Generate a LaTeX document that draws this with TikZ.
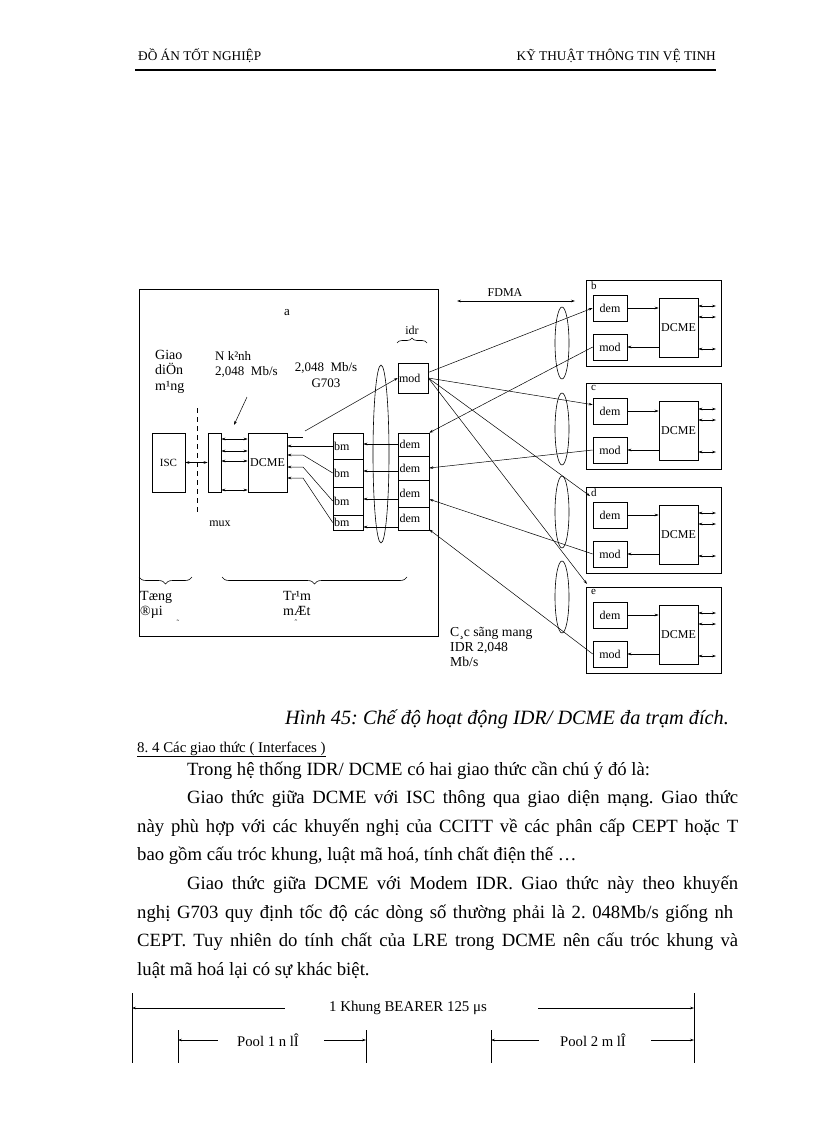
\documentclass[tikz,border=0pt]{standalone}
\usepackage{fontspec}
\setmainfont{Liberation Serif}
\usetikzlibrary{arrows.meta, calc, decorations.pathreplacing}
\newcommand{\fsz}[2]{\fontsize{#1}{#2}\selectfont}
\frenchspacing

\begin{document}
\begin{tikzpicture}[x=1pt, y=-1pt,
    blk/.style={draw, line width=0.6pt, inner sep=0pt, font=\fsz{12}{14}},
    lbox/.style={text width=28pt, inner xsep=1pt, align=left},
    lbl/.style={inner sep=0pt, font=\fsz{12}{14}},
    arr/.style={-{Stealth[length=4pt,width=2.6pt]}, line width=0.5pt},
    darr/.style={{Stealth[length=4pt,width=2.6pt]}-{Stealth[length=4pt,width=2.6pt]}, line width=0.5pt},
    brc/.style={decorate, decoration={brace, amplitude=7pt}, line width=0.6pt}]
  \useasboundingbox[fill=white] (0,0) rectangle (816,1123);

  % header
  \node[lbl, font=\fsz{13.3}{15}, anchor=base west] (hdl) at (138,61) {ĐỒ ÁN TỐT NGHIỆP};
  \node[lbl, font=\fsz{13.3}{15}, anchor=base east] (hdr) at (716,61) {KỸ THUẬT THÔNG TIN VỆ TINH};
  \draw[line width=2pt] (135,70) -- (716,70);

  % station a
  \node[blk, minimum width=299pt, minimum height=347pt] (sta) at (288.5,462.5) {};
  \node[lbl, font=\fsz{13}{15}] (alab) at (287,313) {a};
  \node[blk, minimum width=33pt, minimum height=59pt, font=\fsz{11}{13}] (isc) at (168.5,462.5) {ISC};
  \node[blk, minimum width=13pt, minimum height=59pt] (mux) at (214.5,462.5) {};
  \node[blk, minimum width=39pt, minimum height=59pt] (dcmea) at (267.5,462.5) {DCME};
  \node[blk, lbox, minimum width=30pt, minimum height=26pt] (bm1) at (348,446) {bm};
  \node[blk, lbox, minimum width=30pt, minimum height=28pt] (bm2) at (348,473) {bm};
  \node[blk, lbox, minimum width=30pt, minimum height=28pt] (bm3) at (348,501) {bm};
  \node[blk, lbox, minimum width=30pt, minimum height=15pt] (bm4) at (348,522.5) {bm};
  \node[blk, lbox, minimum width=31pt, minimum height=23pt] (dema1) at (413.5,444.5) {dem};
  \node[blk, lbox, minimum width=31pt, minimum height=24pt] (dema2) at (413.5,468) {dem};
  \node[blk, lbox, minimum width=31pt, minimum height=27pt] (dema3) at (413.5,493.5) {dem};
  \node[blk, lbox, minimum width=31pt, minimum height=23pt] (dema4) at (413.5,518.5) {dem};
  \node[blk, lbox, minimum width=30pt, minimum height=30pt] (moda) at (413,378) {mod};
  \draw[line width=0.6pt] (381,454) ellipse [x radius=8, y radius=89];

  \node[lbl, font=\fsz{14}{15.5}, align=left, anchor=north west] (gdm) at (155,350) {Giao\\diÖn\\m¹ng};
  \node[lbl, font=\fsz{13}{15}, align=left, anchor=north west] (nk) at (215,351) {N k²nh\\2,048\ \ Mb/s};
  \node[lbl, font=\fsz{13}{16}, align=center, anchor=north] (g703) at (326,362) {2,048\ \ Mb/s\\G703};
  \node[lbl] (idr) at (412,330) {idr};
  \draw[brc, decoration={amplitude=5pt}] (397,343) -- (427,343);
  \node[lbl] (muxl) at (220,524) {mux};
  \draw[line width=0.6pt, dash pattern=on 5pt off 4pt] (197,408) -- (197,513);
  \coordinate (nkt) at (247,397);
  \coordinate (nkh) at (234,425);
  \draw[arr] (nkt) -- (nkh);

  \draw[brc] (192,577) -- (139,577);
  \draw[brc] (407,577) -- (222,577);
  \node[lbl, font=\fsz{14}{15}, align=left, anchor=north west] (tdai) at (140,591) {Tæng\\®µi};
  \node[lbl, font=\fsz{14}{15}, align=left, anchor=north west] (tmat) at (283,591) {Tr¹m\\mÆt};
  \node[lbl, font=\fsz{8}{9}] (tm1) at (178,623) {˜};
  \node[lbl, font=\fsz{8}{9}] (tm2) at (296,623) {ˆ};

  % links inside a
  \draw[darr] (isc.east) -- (mux.west);
  \foreach \y in {439,451,461,490}
    \draw[darr] (mux.east |- 0,\y) -- (dcmea.west |- 0,\y);
  \draw[line width=0.5pt] (dcmea.east |- 0,437) -- (303,437);
  \coordinate (g7) at (305,431);
  \draw[arr] (g7) -- (moda.west);
  \draw[arr] (bm1.west) -- (bm1.west -| dcmea.east);
  \draw[arr] (bm2.west) -- (303,455) -- (dcmea.east |- 0,455);
  \draw[arr] (bm3.west) -- (303,467) -- (dcmea.east |- 0,467);
  \draw[arr] (bm4.west) -- (303,478) -- (dcmea.east |- 0,478);
  \foreach \i/\y in {1/444,2/471,3/499,4/527}
    \draw[arr] (dema\i.west |- 0,\y) -- (bm\i.east |- 0,\y);

  % remote stations
  \node[lbl] (fdma) at (505,293) {FDMA};
  \coordinate (fl) at (457,301);
  \coordinate (fr) at (575,301);
  \draw[darr] (fl) -- (fr);
  \foreach \s/\T in {b/280,c/383,d/487,e/587}{
    \node[blk, minimum width=135pt, minimum height=86pt] (st\s) at (653.5,\T+43) {};
    \node[lbl, font=\fsz{11}{12}, anchor=north west] (lb\s) at (591,\T+2) {\s};
    \node[blk, minimum width=34pt, minimum height=26pt] (dem\s) at (610,\T+28) {dem};
    \node[blk, minimum width=34pt, minimum height=26pt] (mod\s) at (610,\T+67) {mod};
    \node[blk, minimum width=39pt, minimum height=59pt] (dcme\s) at (678.5,\T+47.5) {DCME};
    \draw[arr] (dem\s.east) -- (dem\s.east -| dcme\s.west);
    \draw[arr] (mod\s.east -| dcme\s.west) -- (mod\s.east);
    \foreach \dy in {26,37,69}{
      \coordinate (o\s\dy) at (716,\T+\dy);
      \draw[darr] (dcme\s.east |- o\s\dy) -- (o\s\dy);
    }
  }
  \foreach \c in {343,429,512,597}
    \draw[line width=0.6pt] (562,\c) ellipse [x radius=7, y radius=36];

  % links between stations
  \coordinate (dtip) at (590,496);
  \coordinate (etip) at (587,584);
  \draw[arr] (moda.20) -- (demb.west);
  \draw[arr] (moda.east) -- (demc.160);
  \draw[arr] (moda.east) -- (dtip);
  \draw[arr] (moda.east) -- (etip);
  \draw[arr] (modb.west) -- (dema1.north east);
  \draw[arr] (modc.west) -- (dema2.east);
  \draw[arr] (modd.west) -- (dema3.-20);
  \draw[arr] (mode.west) -- (dema4.-35);
  \node[lbl, font=\fsz{13.7}{15}, align=left, anchor=north west] (idrl) at (450,627) {C¸c sãng mang\\IDR 2,048\\Mb/s};

  % caption and text
  \node[lbl, font=\fsz{20.3}{23}\itshape, anchor=base west] (cap) at (285,724) {Hình 45: Chế độ hoạt động IDR/ DCME đa trạm đích.};
  \node[lbl, font=\fsz{14.9}{17}, anchor=base west] (sec) at (137,752) {\underline{8. 4 Các giao thức ( Interfaces )}};
  \node[lbl, font=\fsz{18.7}{22}, anchor=base west] (l1) at (187,775) {Trong hệ thống IDR/ DCME có hai giao thức cần chú ý đó là:};
  \node[lbl, font=\fsz{18.7}{22}, anchor=base west] (l2) at (187,803) {\makebox[551pt][s]{Giao thức giữa DCME với ISC thông qua giao diện mạng. Giao thức}};
  \node[lbl, font=\fsz{18.7}{22}, anchor=base west] (l3) at (137,832) {\makebox[601pt][s]{này phù hợp với các khuyến nghị của CCITT về các phân cấp CEPT hoặc T}};
  \node[lbl, font=\fsz{18.7}{22}, anchor=base west] (l4) at (137,860) {bao gồm cấu tróc khung, luật mã hoá, tính chất điện thế …};
  \node[lbl, font=\fsz{18.7}{22}, anchor=base west] (l5) at (187,889) {\makebox[551pt][s]{Giao thức giữa DCME với Modem IDR. Giao thức này theo khuyến}};
  \node[lbl, font=\fsz{18.7}{22}, anchor=base west] (l6) at (137,918) {\makebox[596pt][s]{nghị G703 quy định tốc độ các dòng số thường phải là 2. 048Mb/s giống nh}};
  \node[lbl, font=\fsz{18.7}{22}, anchor=base west] (l7) at (137,946) {\makebox[601pt][s]{CEPT. Tuy nhiên do tính chất của LRE trong DCME nên cấu tróc khung và}};
  \node[lbl, font=\fsz{18.7}{22}, anchor=base west] (l8) at (137,975) {luật mã hoá lại có sự khác biệt.};

  % bearer frame
  \coordinate (v1t) at (132,993);  \coordinate (v1b) at (132,1063);
  \coordinate (v2t) at (178,1030); \coordinate (v2b) at (178,1063);
  \coordinate (v3t) at (366,1030); \coordinate (v3b) at (366,1063);
  \coordinate (v4t) at (491,1030); \coordinate (v4b) at (491,1063);
  \coordinate (v5t) at (694,993);  \coordinate (v5b) at (694,1063);
  \foreach \v in {1,...,5}
    \draw[line width=0.6pt] (v\v t) -- (v\v b);
  \node[lbl, font=\fsz{14.9}{16}] (kh) at (408,1008) {1 Khung BEARER 125 μs};
  \draw[arr] ([xshift=-44pt]kh.west) -- (kh.west -| v1t);
  \draw[arr] ([xshift=51pt]kh.east) -- (kh.east -| v5t);
  \node[lbl, font=\fsz{14.7}{16}] (p1) at (268,1040) {Pool 1 n lÎ};
  \draw[arr] ([xshift=-19pt]p1.west) -- (p1.west -| v2t);
  \draw[arr] ([xshift=25pt]p1.east) -- (p1.east -| v3t);
  \node[lbl, font=\fsz{14.7}{16}] (p2) at (593,1040) {Pool 2 m lÎ};
  \draw[arr] ([xshift=-21pt]p2.west) -- (p2.west -| v4t);
  \draw[arr] ([xshift=25pt]p2.east) -- (p2.east -| v5t);
\end{tikzpicture}
\end{document}
